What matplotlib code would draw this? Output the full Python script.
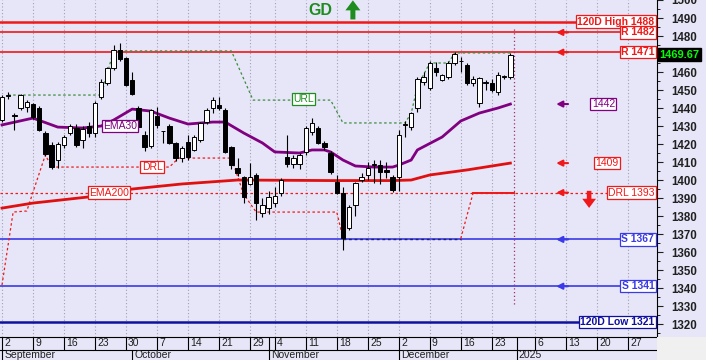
import matplotlib.pyplot as plt
from matplotlib.patches import Rectangle
import matplotlib.transforms as mtransforms

plt.rcParams['font.family'] = ['Liberation Sans', 'DejaVu Sans']

# daily candles, x = trading-day index (0 = 2 Sep 2024)
opens = [1433.3, 1446.5, 1436, 1440, 1440.6, 1442.2, 1440, 1426, 1419.4, 1411.1,
         1419.4, 1426.1, 1428.9, 1422.2, 1430, 1426.1, 1446.1, 1453.9, 1462.2, 1472.2,
         1467.8, 1455.6, 1440, 1425, 1418.9, 1435.6, 1427.2, 1430, 1420.6, 1412.2,
         1421.1, 1416.7, 1422.2, 1432.2, 1440, 1441.7, 1438.9, 1418.3, 1406.7, 1401.7,
         1397.8, 1402.8, 1381.7, 1384.4, 1387.2, 1392.8, 1412.8, 1409, 1408.9, 1415.6,
         1426.7, 1428.9, 1420.6, 1415, 1398.9, 1392.8, 1373.3, 1386.1, 1400, 1402.8,
         1408.3, 1408.3, 1405.6, 1401.7, 1401.7, 1430.5, 1429.4, 1440, 1454.4, 1451.1,
         1462.2, 1455.6, 1457.2, 1465, 1466, 1463.9, 1453.9, 1442.8, 1454, 1453.9,
         1448.9, 1457.2, 1457.2]
highs = [1447.5, 1449, 1437, 1448, 1444.5, 1443, 1441, 1427, 1421, 1421,
         1425, 1431, 1431, 1430, 1432, 1444, 1456, 1463, 1475, 1476,
         1468.5, 1460, 1441, 1427, 1439.5, 1440.5, 1427.5, 1431, 1421, 1419,
         1425, 1425, 1432.5, 1440, 1446, 1446, 1440, 1419, 1412, 1402.5,
         1409.4, 1404, 1390, 1394, 1396, 1401, 1425, 1414, 1415, 1430,
         1434.4, 1430, 1421.5, 1416, 1403, 1396, 1386, 1399, 1404, 1410,
         1411, 1411, 1410, 1403, 1428, 1433, 1438, 1457, 1460, 1466,
         1465.6, 1459, 1466, 1471.1, 1468.5, 1465, 1458, 1457.5, 1455.6, 1456,
         1460, 1458.5, 1470.6]
lows = [1432, 1445, 1428, 1439, 1438, 1434, 1427, 1413.5, 1406, 1406.7,
        1418, 1425, 1418.3, 1418, 1424, 1424, 1445, 1453, 1461, 1466,
        1452, 1447, 1428, 1416, 1418, 1429, 1420.5, 1420, 1410.5, 1410,
        1411, 1416, 1421, 1431, 1437, 1439, 1415, 1406, 1402, 1387,
        1397, 1377.8, 1379.5, 1381, 1385, 1391, 1407, 1406.5, 1406, 1414,
        1425, 1420, 1416.5, 1403.5, 1392, 1361.1, 1372, 1380, 1399, 1400,
        1398.3, 1398, 1401, 1393.5, 1394, 1424, 1428, 1438, 1453, 1450,
        1458, 1455, 1456, 1464, 1460, 1453, 1452, 1440.5, 1450, 1449,
        1447, 1456, 1456]
closes = [1446.1, 1447, 1435.5, 1447.2, 1443.3, 1435, 1427.8, 1414.4, 1407.2, 1420,
          1423.9, 1430, 1419.4, 1428.3, 1426.1, 1442.8, 1454.4, 1462.2, 1472.2, 1467.2,
          1452.8, 1447.8, 1429.4, 1418.3, 1438.9, 1430.6, 1427, 1420.6, 1412.2, 1417.8,
          1412.8, 1423.9, 1431.7, 1438.9, 1444.4, 1440, 1415.6, 1408.3, 1403.9, 1390.6,
          1401.7, 1387.2, 1386.1, 1390.6, 1391.1, 1400, 1408.9, 1412, 1413.9, 1428.9,
          1431.7, 1420.6, 1418.3, 1404.4, 1392.8, 1367.8, 1385, 1398.3, 1401.7, 1406.7,
          1408.6, 1404.4, 1404.4, 1394.4, 1425, 1431, 1437.2, 1456.1, 1457.2, 1465,
          1460, 1458.3, 1465, 1470, 1466.1, 1453.9, 1456.1, 1456.7, 1454.2, 1450,
          1458.3, 1457.5, 1469.67]

# moving averages
ema30_x = [0, 5, 9, 13, 16, 18, 21, 24, 27, 30, 34, 36, 39, 42, 44, 48, 50, 52, 53,
           55, 57, 60, 63, 64, 66, 67, 71, 74, 77, 80, 82]
ema30_y = [1430.6, 1434.4, 1429.4, 1428.9, 1430, 1433.3, 1439.4, 1438.3, 1434.4, 1431.1,
           1432.2, 1432.2, 1426.1, 1420.6, 1415.6, 1415, 1416.7, 1416.7, 1415.6,
           1411.1, 1407.8, 1407.2, 1407.2, 1408.3, 1411.1, 1416.7, 1423.9, 1432.8,
           1437.2, 1440, 1442.2]
ema200_x = [0, 5, 15, 21, 29, 38, 53, 63, 66, 69, 75, 82]
ema200_y = [1384.4, 1387.2, 1391, 1395, 1397.8, 1400, 1399.7, 1399.7, 1400, 1402.8,
            1405.6, 1409.4]

# trailing lines
url_x = [1, 16, 18, 37, 40.5, 53, 55, 65, 66, 67, 69, 72, 73, 82]
url_y = [1447.2, 1447.2, 1471.7, 1471.7, 1444.4, 1444.4, 1431.7, 1431.7, 1437,
         1452, 1465, 1465, 1470.6, 1470.6]
drl_x = [0, 1.8, 4, 7, 8, 27, 28.5, 37, 39, 41, 54, 55]
drl_y = [1341.7, 1382.2, 1382.8, 1414, 1407.2, 1407.2, 1412.2, 1412.2, 1392,
         1382.2, 1382.2, 1367.5]
drl2_x = [55, 74]
drl2_y = [1367.5, 1367.5]
drl3_x = [74, 76, 82.6]
drl3_y = [1367.5, 1393, 1393]

# levels
high120 = 1488
res_levels = [1482, 1471]
sup_levels = [1367, 1341]
low120 = 1321
drl_level = 1393
last_price = 1469.67

# date axis
day_labels = ['2', '9', '16', '23', '30', '7', '14', '21', '29', '4', '11', '18', '25',
              '2', '9', '16', '23', '6', '13', '20', '27']
day_idx = [0, 5, 10, 15, 20, 25, 30, 35, 40, 44, 49, 54, 59, 64, 69, 74, 79, 86, 91, 96, 101]
month_labels = ['September', 'October', 'November', 'December', '2025']
month_idx = [0, 21, 43, 64, 83]

BG = '#e6e6f8'
RED = '#f01818'
BLUE = '#3a3ae8'
PURPLE = '#800080'
GREEN = '#1e8c1e'

fig = plt.figure(figsize=(7.06, 3.6), dpi=100)
fig.patch.set_facecolor(BG)
W = 657 / 706
ax = fig.add_axes([0, 23 / 360, W, 337 / 360])
ax.set_facecolor(BG)
x0, x1 = -0.32, 105.65
ax.set_xlim(x0, x1)
ax.set_ylim(1312.8, 1500)

# weekly grid
for d in day_idx:
    ax.axvline(d, color='#a0a0b0', ls=(0, (1, 2)), lw=0.8, zorder=0)

# horizontal levels
ax.axhline(high120, color=RED, lw=1.8, zorder=2)
for r in res_levels:
    ax.axhline(r, color=RED, lw=1.2, zorder=2)
for s in sup_levels:
    ax.axhline(s, color=BLUE, lw=1.2, zorder=2)
ax.axhline(low120, color='#1010a0', lw=1.8, zorder=2)
ax.axhline(drl_level, color=RED, lw=0.9, ls=(0, (2, 2)), zorder=2)

# trailing lines
ax.plot(url_x, url_y, color='#3c8c3c', lw=0.9, ls=(0, (2, 2)), zorder=3)
ax.plot(drl_x, drl_y, color=RED, lw=0.9, ls=(0, (2, 2)), zorder=3)
ax.plot(drl2_x, drl2_y, color='#202070', lw=1.0, ls=(0, (2, 2)), zorder=3)
ax.plot(drl3_x, drl3_y, color=RED, lw=0.9, ls=(0, (2, 2)), zorder=3)
ax.plot([76, 82.6], [drl_level, drl_level], color=RED, lw=1.4, zorder=3)

# moving averages
ax.plot(ema200_x, ema200_y, color='#e01010', lw=2.0, zorder=4)
ax.plot(ema30_x, ema30_y, color=PURPLE, lw=2.0, zorder=4)

# candles
for i in range(len(opens)):
    o, h, l, c = opens[i], highs[i], lows[i], closes[i]
    ax.vlines(i, l, h, color='black', lw=0.8, zorder=5)
    fc = 'white' if c >= o else 'black'
    ax.bar(i, max(abs(c - o), 0.35), bottom=min(o, c), width=0.7,
           color=fc, edgecolor='black', linewidth=0.7, zorder=6)

# current-date marker
ax.vlines(82.6, 1331, 1484, color='#a03060', lw=0.9, ls=(0, (1, 2)), zorder=3)

# boxed labels
def box(x, y, s, col, ha='center', bold=False, trans=None):
    ax.text(x, y, s, color=col, fontsize=7.5, ha=ha, va='center',
            fontweight='bold' if bold else 'normal',
            transform=trans if trans is not None else ax.transData,
            bbox=dict(boxstyle='square,pad=0.12', fc='white', ec=col, lw=0.9), zorder=8)

edge = mtransforms.blended_transform_factory(ax.transAxes, ax.transData)
box(0.996, high120, '120D High %d' % high120, RED, 'right', True, edge)
for r in res_levels:
    box(0.996, r, 'R %d' % r, RED, 'right', True, edge)
for s in sup_levels:
    box(0.996, s, 'S %d' % s, BLUE, 'right', True, edge)
box(0.996, low120, '120D Low %d' % low120, '#1010a0', 'right', True, edge)
box(0.996, drl_level, 'DRL %d' % drl_level, RED, 'right', False, edge)
box(97, ema30_y[-1], '%d' % round(ema30_y[-1]), PURPLE)
box(97.6, ema200_y[-1], '%d' % int(ema200_y[-1]), RED)
box(19, 1430, 'EMA30', PURPLE)
box(17.3, drl_level, 'EMA200', RED)
box(24.2, 1407.2, 'DRL', RED)
box(48.7, 1445, 'URL', GREEN)

# small left arrows
arrow_vals = [res_levels[0], res_levels[1], ema30_y[-1], ema200_y[-1], drl_level,
              sup_levels[0], sup_levels[1]]
arrow_cols = [RED, RED, PURPLE, RED, RED, BLUE, BLUE]
for v, col in zip(arrow_vals, arrow_cols):
    ax.annotate('', xy=(89.4, v), xytext=(91.3, v),
                arrowprops=dict(arrowstyle='-|>,head_length=0.35,head_width=0.18',
                                color=col, lw=1.5, shrinkA=0, shrinkB=0), zorder=8)

# big signal arrows
ax.annotate('', xy=(94.7, 1384.5), xytext=(94.7, 1394),
            arrowprops=dict(arrowstyle='simple,head_width=0.9,head_length=0.6,tail_width=0.3',
                            color=RED, lw=0, mutation_scale=11, shrinkA=0, shrinkB=0),
            zorder=8)
ax.annotate('', xy=(56.6, 1499.8), xytext=(56.6, 1489.2),
            arrowprops=dict(arrowstyle='simple,head_width=0.9,head_length=0.6,tail_width=0.3',
                            color=GREEN, lw=0, mutation_scale=12, shrinkA=0, shrinkB=0),
            zorder=8)
ax.text(51.3, 1494, 'GD', color=GREEN, fontsize=11.5, fontweight='bold',
        ha='center', va='center', zorder=8)

# right price axis
ax.yaxis.tick_right()
yt = list(range(1320, 1501, 10))
ax.set_yticks(yt)
ax.set_yticklabels(['' if t == 1470 else str(t) for t in yt])
ax.set_yticks(range(1315, 1500, 5), minor=True)
ax.tick_params(axis='y', which='major', length=4, labelsize=8.3, colors='#202020', pad=6)
ax.tick_params(axis='y', which='minor', length=2)
for lab in ax.get_yticklabels():
    lab.set_fontweight('bold')
ax.set_xticks([])
for sp in ['left', 'top']:
    ax.spines[sp].set_visible(False)
ax.spines['right'].set_color('black')
ax.spines['bottom'].set_color('black')

# last price tag
ax.text(1.004, last_price, '%.2f' % last_price, transform=edge, color='#00ff00',
        fontsize=8, fontweight='bold', ha='left', va='center',
        bbox=dict(boxstyle='square,pad=0.15', fc='black', ec='black'), clip_on=False)

# date strip
ax2 = fig.add_axes([0, 0, W, 23 / 360])
ax2.set_facecolor(BG)
ax2.set_xlim(x0, x1)
ax2.set_ylim(0, 1)
ax2.axis('off')
ax2.axhline(10 / 23, color='black', lw=0.8)
for d, s in zip(day_idx, day_labels):
    ax2.vlines(d, 10 / 23, 1, color='black', lw=0.8)
    ax2.text(d + 0.35, 0.72, s, fontsize=7.5, ha='left', va='center', color='#202020')
for m, s in zip(month_idx, month_labels):
    top = 1 if m in (43, 83) else 10 / 23
    ax2.vlines(m, 0, top, color='black', lw=0.8)
    ax2.text(m + 0.35, 0.2, s, fontsize=7.5, ha='left', va='center', color='#202020')

fig.patches.append(Rectangle((W, 0), 1 - W, 23 / 360, transform=fig.transFigure,
                             facecolor='#f0f0f0', edgecolor='none'))

fig.savefig('out.png', dpi=100, facecolor=fig.get_facecolor())
